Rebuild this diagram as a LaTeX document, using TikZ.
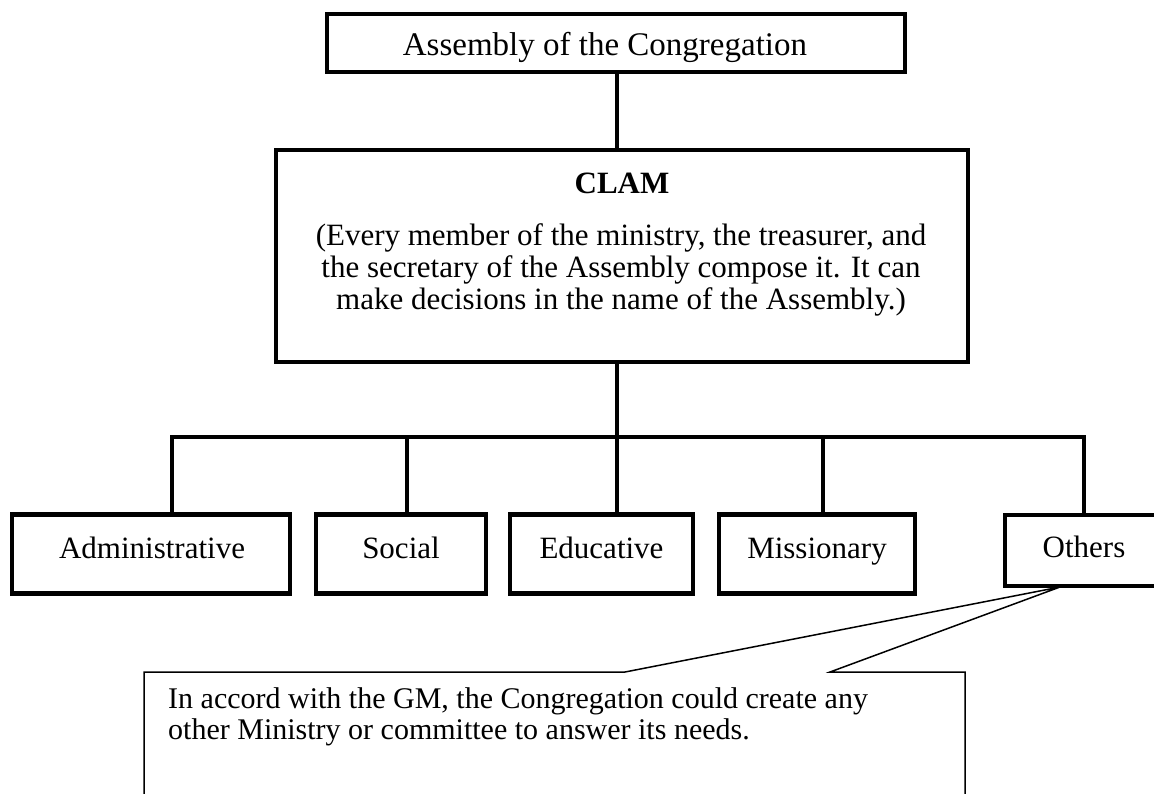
\documentclass[tikz,border=0pt]{standalone}
\usepackage{fontspec}
\setmainfont{Liberation Serif}
\begin{document}
\begin{tikzpicture}[x=1pt,y=-1pt,
  box/.style={draw,line width=4.5pt,rectangle,inner sep=0pt,line join=miter},
  topbox/.style={box,line width=3.5pt},
  conn/.style={line width=4.5pt,line join=miter},
  thinconn/.style={line width=3.5pt},
  note/.style={line width=1.5pt,line join=miter},
  lbl/.style={font=\fontsize{31}{32}\selectfont,inner sep=0pt,anchor=base},
  toplbl/.style={lbl,font=\fontsize{33}{34}\selectfont},
  notelbl/.style={lbl,font=\fontsize{30}{31}\selectfont,anchor=base west},
  blbl/.style={lbl,font=\fontsize{31}{32}\selectfont\bfseries}]
\useasboundingbox (0,0) rectangle (1154,793);
\clip (0,0) rectangle (1154,793);
\fill[white] (0,0) rectangle (1154,793);

% boxes
\node[topbox,minimum width=578pt,minimum height=58pt] (top) at (616,43) {};
\node[box,minimum width=692pt,minimum height=212pt] (clam) at (622,256) {};
\node[box,minimum width=278pt,minimum height=79pt] (admin) at (151,554) {};
\node[box,minimum width=170pt,minimum height=79pt] (social) at (401,554) {};
\node[box,minimum width=183pt,minimum height=79pt] (educ) at (601.5,554) {};
\node[box,minimum width=196pt,minimum height=79pt] (miss) at (817,554) {};
\node[box,minimum width=158pt,minimum height=71pt] (others) at (1084,550.5) {};

% labels
\node[toplbl] (toplbl) at (605,55) {Assembly of the Congregation};
\node[blbl] (clamt) at (622,193) {CLAM};
\node[lbl] (clam1) at (621,245) {(Every member of the ministry, the treasurer, and};
\node[lbl] (clam2) at (621,277) {the secretary of the Assembly compose it. It can};
\node[lbl] (clam3) at (621,309) {make decisions in the name of the Assembly.)};
\node[lbl] (adminlbl) at (152,558) {Administrative};
\node[lbl] (sociallbl) at (401,558) {Social};
\node[lbl] (educlbl) at (601.5,558) {Educative};
\node[lbl] (misslbl) at (817,558) {Missionary};
\node[lbl] (otherslbl) at (1084,557) {Others};

% connectors
\coordinate (hub) at (617,437);
\coordinate (busL) at (172,437);
\coordinate (busR) at (1084,437);
\coordinate (dS) at (407,437);
\coordinate (dM) at (823,437);
\draw[thinconn] (hub |- top.south) -- (hub |- clam.north);
\draw[conn] (hub |- clam.south) -- (hub);
\draw[conn] (busL |- admin.north) -- (busL) -- (busR) -- (busR |- others.north);
\draw[conn] (dS) -- (dS |- social.north);
\draw[conn] (hub) -- (hub |- educ.north);
\draw[conn] (dM) -- (dM |- miss.north);

% callout
\coordinate (tip) at (1060,587);
\coordinate (cTL) at (144,672);
\coordinate (cTR) at (965,672);
\coordinate (cA) at (625,672);
\coordinate (cB) at (830,672);
\draw[note] (cTL |- 0,800) -- (cTL) -- (cA) -- (tip) -- (cB) -- (cTR) -- (cTR |- 0,800);
\node[notelbl] (note1) at (168,708) {In accord with the GM, the Congregation could create any};
\node[notelbl] (note2) at (168,739) {other Ministry or committee to answer its needs.};
\end{tikzpicture}
\end{document}
